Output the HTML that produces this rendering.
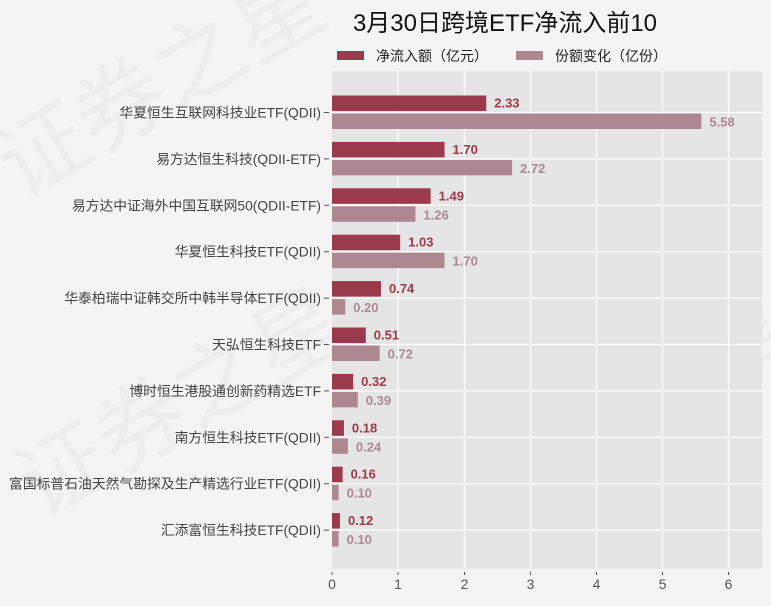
<!DOCTYPE html>
<html><head><meta charset="utf-8"><style>
html,body{margin:0;padding:0;background:#f4f4f4;}
svg{display:block;font-family:"Liberation Sans","Noto Sans CJK SC",sans-serif;}
</style></head><body>
<svg width="771" height="606" viewBox="0 0 771 606" xmlns="http://www.w3.org/2000/svg">
<rect width="771" height="606" fill="#f4f4f4"/>
<g fill="#000" opacity="0.03" font-size="90" font-family="Noto Sans CJK SC,sans-serif">
<text x="20" y="200" transform="rotate(-30 20 200)">证券之星</text>
<text x="40" y="520" transform="rotate(-30 40 520)">证券之星</text>
<text x="480" y="520" transform="rotate(-30 480 520)">证券之星</text>
</g>
<text x="505" y="31" text-anchor="middle" font-size="24" fill="#111">3月30日跨境ETF净流入前10</text>
<rect x="337" y="51" width="27" height="9" fill="#9b3a4c"/>
<text x="376" y="61" font-size="14" fill="#222">净流入额（亿元）</text>
<rect x="516" y="51" width="27" height="9" fill="#ad8891"/>
<text x="555" y="61" font-size="14" fill="#222">份额变化（亿份）</text>
<rect x="332" y="71" width="430" height="498" fill="#e5e5e5"/>
<g stroke="#fff" stroke-width="1.2">
<line x1="398" y1="71" x2="398" y2="569"/><line x1="464.5" y1="71" x2="464.5" y2="569"/>
<line x1="530.5" y1="71" x2="530.5" y2="569"/><line x1="596.5" y1="71" x2="596.5" y2="569"/>
<line x1="662.5" y1="71" x2="662.5" y2="569"/><line x1="728.5" y1="71" x2="728.5" y2="569"/>
<line x1="332" y1="112.5" x2="762" y2="112.5"/><line x1="332" y1="158.9" x2="762" y2="158.9"/>
<line x1="332" y1="205.3" x2="762" y2="205.3"/><line x1="332" y1="251.7" x2="762" y2="251.7"/>
<line x1="332" y1="298.1" x2="762" y2="298.1"/><line x1="332" y1="344.5" x2="762" y2="344.5"/>
<line x1="332" y1="390.9" x2="762" y2="390.9"/><line x1="332" y1="437.3" x2="762" y2="437.3"/>
<line x1="332" y1="483.7" x2="762" y2="483.7"/><line x1="332" y1="530.1" x2="762" y2="530.1"/>
</g>
<g id="bars" font-size="13" font-weight="bold"></g>
<g font-size="13.8" fill="#444" text-anchor="end" id="labels"></g>
<g font-size="14" fill="#555" text-anchor="middle">
<text x="332" y="589">0</text><text x="398" y="589">1</text><text x="464.5" y="589">2</text><text x="530.5" y="589">3</text><text x="596.5" y="589">4</text><text x="662.5" y="589">5</text><text x="728.5" y="589">6</text>
</g>
<g stroke="#555" stroke-width="1">
<line x1="332" y1="572" x2="332" y2="575"/><line x1="398" y1="572" x2="398" y2="575"/><line x1="464.5" y1="572" x2="464.5" y2="575"/><line x1="530.5" y1="572" x2="530.5" y2="575"/><line x1="596.5" y1="572" x2="596.5" y2="575"/><line x1="662.5" y1="572" x2="662.5" y2="575"/><line x1="728.5" y1="572" x2="728.5" y2="575"/>
</g>
<script>
var d=[["华夏恒生互联网科技业ETF(QDII)",2.33,5.58],["易方达恒生科技(QDII-ETF)",1.70,2.72],["易方达中证海外中国互联网50(QDII-ETF)",1.49,1.26],["华夏恒生科技ETF(QDII)",1.03,1.70],["华泰柏瑞中证韩交所中韩半导体ETF(QDII)",0.74,0.20],["天弘恒生科技ETF",0.51,0.72],["博时恒生港股通创新药精选ETF",0.32,0.39],["南方恒生科技ETF(QDII)",0.18,0.24],["富国标普石油天然气勘探及生产精选行业ETF(QDII)",0.16,0.10],["汇添富恒生科技ETF(QDII)",0.12,0.10]];
var ns="http://www.w3.org/2000/svg",b=document.getElementById("bars"),l=document.getElementById("labels");
function el(p,t,a,tx){var e=document.createElementNS(ns,t);for(var k in a)e.setAttribute(k,a[k]);if(tx)e.textContent=tx;p.appendChild(e);}
var s=66.2;
d.forEach(function(r,i){var c=112.5+46.4*i;
el(b,"rect",{x:332,y:c-17,width:r[1]*s,height:15.5,fill:"#9b3a4c"});
el(b,"rect",{x:332,y:c+1,width:r[2]*s,height:15.5,fill:"#ad8891"});
el(b,"text",{x:332+r[1]*s+8,y:c-5,fill:"#9b3a4c"},r[1].toFixed(2));
el(b,"text",{x:332+r[2]*s+8,y:c+14,fill:"#ad8891"},r[2].toFixed(2));
el(l,"text",{x:321,y:c+5},r[0]);
el(l,"line",{x1:324,y1:c,x2:329,y2:c,stroke:"#555"});
});
</script>
</svg>
</body></html>
